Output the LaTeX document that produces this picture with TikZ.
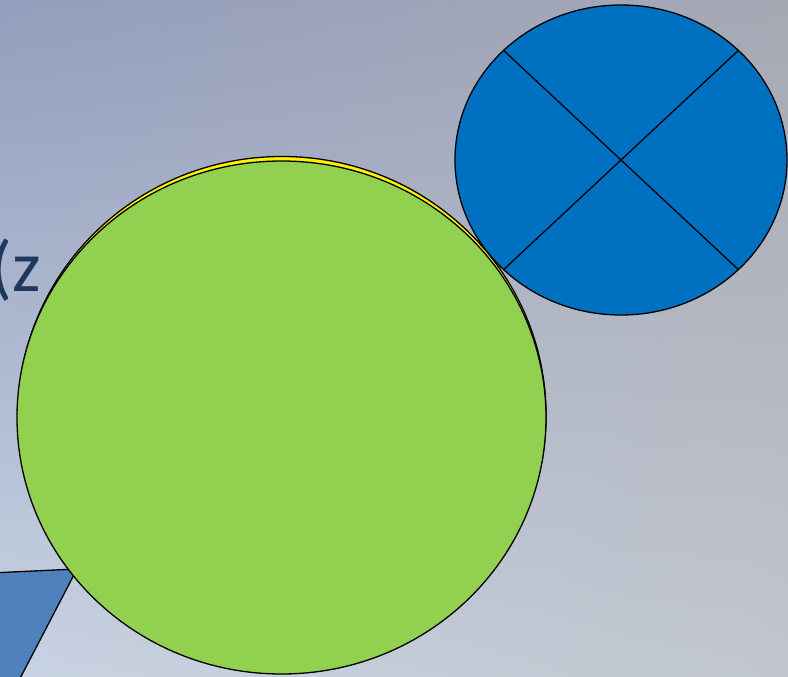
\documentclass[tikz,border=0pt]{standalone}
\usepackage{fontspec}
\usetikzlibrary{shadings}
\newfontfamily\slidefont{Carlito}
\definecolor{bgtl}{RGB}{147,158,190}
\definecolor{bgtr}{RGB}{166,169,180}
\definecolor{bgbl}{RGB}{200,211,227}
\definecolor{bgbr}{RGB}{193,198,206}
\definecolor{leafgreen}{RGB}{146,208,80}
\definecolor{dialblue}{RGB}{0,112,192}
\definecolor{wedgeblue}{RGB}{79,129,189}
\definecolor{inkblue}{RGB}{31,56,94}
\begin{document}
\begin{tikzpicture}[x=1pt, y=-1pt, line width=1.3pt]

    % 1. 背景渐变，同时固定画面大小
    \shade[upper left=bgtl, upper right=bgtr, lower left=bgbl, lower right=bgbr]
        (0, 0) rectangle (788, 677);
    \useasboundingbox (0, 0) rectangle (788, 677);

    % 2. 左侧被截断的文字
    \node[anchor=base west, inner sep=0pt, text=inkblue, font=\slidefont\fontsize{72}{80}\selectfont]
        (label) at (-10, 291) {(z};

    % 3. 左下角的蓝色楔形
    \draw[fill=wedgeblue] (-10, 573) -- (77, 569) -- (14, 690) -- (-10, 690) -- cycle;

    % 4. 右上角的蓝色圆及其中的叉线
    \draw[fill=dialblue] (621, 160) ellipse (166 and 155);
    \draw (503.6, 50.4) -- (738.4, 269.6);
    \draw (738.4, 50.4) -- (503.6, 269.6);

    % 5. 绿色大圆，背后有一圈黄边
    \draw[fill=yellow] (282, 415) ellipse (264 and 258.5);
    \draw[fill=leafgreen] (281.5, 417.5) ellipse (264.5 and 256.5);

\end{tikzpicture}
\end{document}
